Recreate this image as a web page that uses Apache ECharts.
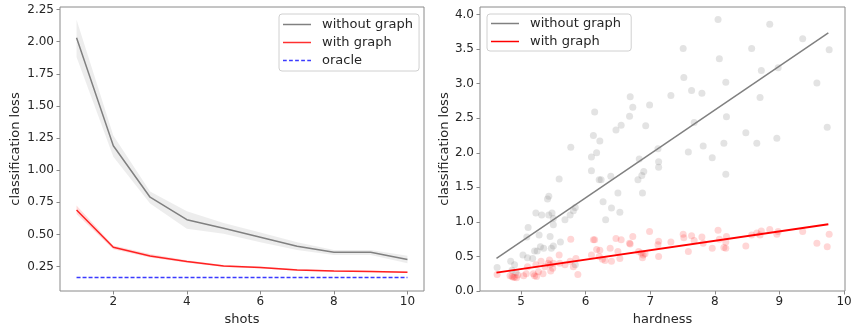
<!DOCTYPE html>
<html>
<head>
<meta charset="utf-8">
<script src="https://cdn.jsdelivr.net/npm/echarts@6/dist/echarts.min.js"></script>
<style>html,body{margin:0;padding:0;background:#fff;}#c{width:852px;height:324px;}</style>
</head>
<body>
<div id="c"></div>
<script>
// ---- Left panel: loss vs shots ----
var shots = [1, 2, 3, 4, 5, 6, 7, 8, 9, 10];
var lossWithout = [2.03, 1.19, 0.79, 0.615, 0.548, 0.478, 0.408, 0.361, 0.361, 0.305];
var lossWithoutLo = [1.88, 1.105, 0.74, 0.545, 0.505, 0.44, 0.38, 0.34, 0.34, 0.275];
var lossWithoutHi = [2.17, 1.27, 0.835, 0.68, 0.59, 0.515, 0.44, 0.38, 0.38, 0.335];
var lossWith = [0.69, 0.40, 0.333, 0.289, 0.255, 0.242, 0.224, 0.216, 0.211, 0.206];
var lossWithLo = [0.66, 0.385, 0.32, 0.279, 0.247, 0.235, 0.218, 0.21, 0.205, 0.2];
var lossWithHi = [0.725, 0.415, 0.347, 0.299, 0.263, 0.25, 0.231, 0.222, 0.217, 0.212];
var oracle = [0.165, 0.165, 0.165, 0.165, 0.165, 0.165, 0.165, 0.165, 0.165, 0.165];
var leftXTicks = [2, 4, 6, 8, 10];
var leftYTicks = [0.25, 0.5, 0.75, 1.0, 1.25, 1.5, 1.75, 2.0, 2.25];

// ---- Right panel: loss vs hardness ----
var hardGray = [4.63,4.84,4.90,5.03,5.09,5.11,5.10,5.18,5.21,5.23,5.25,5.28,5.30,5.32,5.35,5.41,5.43,5.43,5.45,5.47,5.48,5.50,5.50,5.50,5.59,5.61,5.68,5.76,5.77,5.81,5.84,5.84,6.09,6.09,6.12,6.14,6.17,6.21,6.22,6.24,6.27,6.31,6.40,6.39,6.47,6.50,6.53,6.55,6.68,6.69,6.73,6.81,6.83,6.87,6.88,6.90,6.93,6.99,7.12,7.13,7.13,7.32,7.51,7.52,7.59,7.64,7.68,7.80,7.82,7.96,8.05,8.07,8.14,8.17,8.18,8.17,8.48,8.57,8.65,8.70,8.72,8.85,8.96,8.98,9.36,9.58,9.74,9.77,4.92,4.86];
var lossGray = [0.34,0.43,0.38,0.52,0.78,0.92,0.48,0.47,0.58,1.13,0.58,0.81,0.64,1.10,0.62,1.33,1.37,1.10,0.79,0.62,1.13,1.05,0.65,0.96,1.62,0.71,1.03,1.10,2.08,1.16,1.21,0.38,1.74,1.94,2.25,2.59,2.00,1.61,2.17,1.61,1.29,1.03,1.20,1.66,2.33,1.42,1.14,2.40,2.53,2.81,2.66,1.61,1.91,1.67,1.42,1.73,2.39,2.69,2.06,1.87,1.79,2.83,3.51,3.09,2.01,2.90,2.44,2.86,2.10,1.93,3.93,3.36,2.14,3.02,2.52,1.69,2.29,3.51,2.14,2.80,3.19,3.86,2.21,3.23,3.65,3.01,2.37,3.49,0.27,0.30];
var hardRed = [4.63,4.83,4.86,4.88,4.90,4.93,4.95,5.04,5.08,5.10,5.19,5.21,5.24,5.23,5.27,5.31,5.34,5.37,5.42,5.44,5.45,5.46,5.49,5.50,5.59,5.60,5.68,5.76,5.77,5.81,5.85,5.88,6.09,6.12,6.14,6.17,6.21,6.22,6.26,6.30,6.38,6.40,6.47,6.50,6.53,6.55,6.68,6.69,6.73,6.82,6.86,6.88,6.89,6.92,6.99,7.12,7.13,7.13,7.32,7.51,7.52,7.59,7.64,7.68,7.80,7.82,7.96,8.05,8.07,8.14,8.17,8.18,8.17,8.48,8.57,8.65,8.70,8.72,8.85,8.96,8.98,9.36,9.58,9.74,9.77];
var lossRed = [0.24,0.22,0.21,0.20,0.20,0.19,0.23,0.22,0.25,0.35,0.25,0.22,0.21,0.38,0.28,0.43,0.25,0.35,0.40,0.45,0.38,0.29,0.33,0.40,0.52,0.40,0.38,0.43,0.75,0.35,0.47,0.24,0.52,0.74,0.74,0.60,0.50,0.59,0.46,0.44,0.62,0.43,0.76,0.57,0.47,0.74,0.69,0.68,0.79,0.57,0.55,0.48,0.52,0.54,0.86,0.67,0.72,0.50,0.71,0.82,0.77,0.57,0.80,0.73,0.78,0.69,0.62,0.88,0.75,0.63,0.62,0.79,0.71,0.65,0.81,0.84,0.81,0.87,0.89,0.82,0.86,0.86,0.69,0.64,0.82];
var fitX = [4.62, 9.757];
var fitGray = [0.473, 3.734];
var fitRed = [0.266, 0.966];
var rightXTicks = [5, 6, 7, 8, 9, 10];
var rightYTicks = [0, 0.5, 1.0, 1.5, 2.0, 2.5, 3.0, 3.5, 4.0];

function pairs(xs, ys) { return xs.map(function (x, i) { return [x, ys[i]]; }); }

var FONT = 'DejaVu Sans';
var TXT = '#262626';
var FRAME = '#8a8a8a';
var BLUE = '#3a3aff';
var ICON_SOLID = 'path://M0,0L30,0L30,1.6L0,1.6Z';
var ICON_DASH = 'path://M0,0h4v1.4h-4zM6.5,0h4v1.4h-4zM13,0h4v1.4h-4zM19.5,0h4v1.4h-4zM26,0h4v1.4h-4z';

// band drawn as one polygon through the cartesian coordinate system
function bandSeries(lo, hi, color) {
  return {
    type: 'custom', xAxisIndex: 0, yAxisIndex: 0, silent: true, z: 1,
    data: [[shots[0], lo[0]]],
    renderItem: function (params, api) {
      var pts = [];
      for (var i = 0; i < shots.length; i++) pts.push(api.coord([shots[i], hi[i]]));
      for (var j = shots.length - 1; j >= 0; j--) pts.push(api.coord([shots[j], lo[j]]));
      return { type: 'polygon', shape: { points: pts }, style: { fill: color } };
    }
  };
}

function xAxisCfg(idx, min, max, ticks, name) {
  return {
    type: 'value', gridIndex: idx, min: min, max: max,
    name: name, nameLocation: 'middle', nameGap: 20,
    nameTextStyle: { fontFamily: FONT, fontSize: 13, color: TXT },
    axisLine: { show: false }, splitLine: { show: false },
    axisTick: { show: true, length: 3.5, lineStyle: { color: FRAME }, customValues: ticks },
    axisLabel: { fontFamily: FONT, fontSize: 12, color: TXT, margin: 5, customValues: ticks,
      formatter: function (v) { return String(v); } }
  };
}
function yAxisCfg(idx, min, max, ticks, gap, dec) {
  return {
    type: 'value', gridIndex: idx, min: min, max: max,
    name: 'classification loss', nameLocation: 'middle', nameGap: gap,
    nameTextStyle: { fontFamily: FONT, fontSize: 13, color: TXT },
    axisLine: { show: false }, splitLine: { show: false },
    axisTick: { show: true, length: 3.5, lineStyle: { color: FRAME }, customValues: ticks },
    axisLabel: { fontFamily: FONT, fontSize: 12, color: TXT, margin: 6, customValues: ticks,
      formatter: function (v) { return v.toFixed(dec); } }
  };
}
var legendBase = {
  orient: 'vertical', backgroundColor: '#fff', borderColor: '#d0d0d0', borderWidth: 1, borderRadius: 3,
  itemWidth: 28, itemHeight: 14, itemGap: 5,
  textStyle: { fontFamily: FONT, fontSize: 13, color: TXT, padding: [0, 0, 0, 6] }
};

var option = {
  animation: false,
  backgroundColor: '#fff',
  grid: [
    { left: 60, top: 7, width: 364, height: 284, show: true, borderColor: FRAME, borderWidth: 1, backgroundColor: 'transparent', containLabel: false, outerBoundsMode: 'none' },
    { left: 480, top: 7, width: 365, height: 284, show: true, borderColor: FRAME, borderWidth: 1, backgroundColor: 'transparent', containLabel: false, outerBoundsMode: 'none' }
  ],
  xAxis: [
    xAxisCfg(0, 0.55, 10.45, leftXTicks, 'shots'),
    xAxisCfg(1, 4.365, 10.015, rightXTicks, 'hardness')
  ],
  yAxis: [
    yAxisCfg(0, 0.06, 2.27, leftYTicks, 38, 2),
    yAxisCfg(1, 0, 4.11, rightYTicks, 29, 1)
  ],
  legend: [
    Object.assign({}, legendBase, { left: 279, top: 14, padding: [4, 6, 4, 4], data: [
      { name: 'without graph', icon: ICON_SOLID }, { name: 'with graph', icon: ICON_SOLID }, { name: 'oracle', icon: ICON_DASH }] }),
    Object.assign({}, legendBase, { left: 487, top: 14, padding: [3, 6, 3, 4], data: [
      { name: 'without graph ', icon: ICON_SOLID }, { name: 'with graph ', icon: ICON_SOLID }] })
  ],
  series: [
    bandSeries(lossWithoutLo, lossWithoutHi, 'rgba(128,128,128,0.14)'),
    bandSeries(lossWithLo, lossWithHi, 'rgba(255,0,0,0.14)'),
    { type: 'line', name: 'without graph', xAxisIndex: 0, yAxisIndex: 0, z: 3, data: pairs(shots, lossWithout), symbol: 'none', color: '#808080', lineStyle: { color: '#808080', width: 1.5 } },
    { type: 'line', name: 'with graph', xAxisIndex: 0, yAxisIndex: 0, z: 3, data: pairs(shots, lossWith), symbol: 'none', color: '#ff3030', lineStyle: { color: '#ff0000', width: 1.5, opacity: 0.85 } },
    { type: 'line', name: 'oracle', xAxisIndex: 0, yAxisIndex: 0, z: 3, data: pairs(shots, oracle), symbol: 'none', color: BLUE, itemStyle: { color: BLUE }, lineStyle: { color: BLUE, width: 1.3, type: [4, 2] } },
    // right panel
    { type: 'scatter', name: 'g_pts', xAxisIndex: 1, yAxisIndex: 1, data: pairs(hardGray, lossGray), symbolSize: 7, itemStyle: { color: 'rgba(128,128,128,0.28)' } },
    { type: 'line', name: 'without graph ', xAxisIndex: 1, yAxisIndex: 1, data: pairs(fitX, fitGray), symbol: 'none', color: '#808080', lineStyle: { color: '#808080', width: 1.5 } },
    { type: 'scatter', name: 'r_pts', xAxisIndex: 1, yAxisIndex: 1, data: pairs(hardRed, lossRed), symbolSize: 7, itemStyle: { color: 'rgba(255,0,0,0.2)' } },
    { type: 'line', name: 'with graph ', xAxisIndex: 1, yAxisIndex: 1, data: pairs(fitX, fitRed), symbol: 'none', color: '#ff0000', lineStyle: { color: '#ff0000', width: 1.8 } }
  ]
};
var chart = echarts.init(document.getElementById('c'), null, { renderer: 'canvas' });
chart.setOption(option);
</script>
</body>
</html>
